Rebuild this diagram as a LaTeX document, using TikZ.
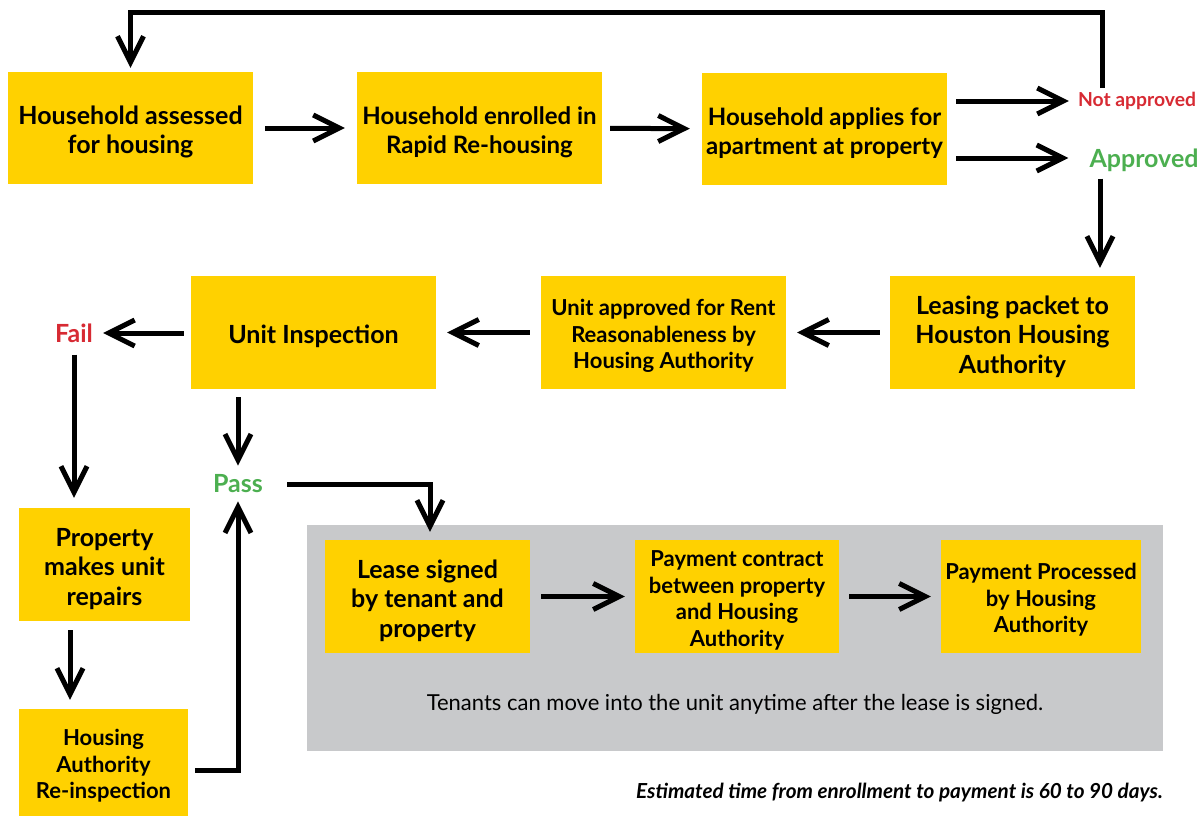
\documentclass[tikz,border=0pt]{standalone}
\usepackage{fontspec}
\setmainfont{Lato}
\usetikzlibrary{arrows.meta}
\definecolor{boxyellow}{HTML}{FFD100}
\definecolor{failred}{HTML}{D72A33}
\definecolor{passgreen}{HTML}{4CAF50}
\definecolor{panelgray}{HTML}{C8C9CB}
\newcommand\sk{\rule{0pt}{1.06em}}
\tikzset{
  stepbox/.style={fill=boxyellow, inner sep=0pt, align=center, font=\bfseries\fontsize{25}{29.5}\selectfont},
  midbox/.style={stepbox, font=\bfseries\fontsize{24}{29}\selectfont},
  smallbox/.style={stepbox, font=\bfseries\fontsize{22}{26.5}\selectfont},
  lbl/.style={inner sep=0pt, font=\bfseries\fontsize{25}{28}\selectfont},
  arr/.style={line width=5pt, -{Straight Barb[length=26pt,width=26pt]}},
}
\begin{document}
\begin{tikzpicture}[x=1pt,y=-1pt]
\useasboundingbox (0,0) rectangle (1204,817);
\fill[panelgray] (307,525) rectangle (1163,751);
% top row
\node[stepbox, minimum width=245, minimum height=112] (b1) at (130.5,128) {\sk Household assessed\\for housing};
\node[midbox, minimum width=245, minimum height=112] (b2) at (479.5,128) {\sk Household enrolled in\\Rapid Re-housing};
\node[midbox, minimum width=245, minimum height=112] (b3) at (824.5,129) {\sk Household applies for\\apartment at property};
\node[lbl, text=failred, font=\bfseries\fontsize{19.3}{22}\selectfont] (na) at (1137,101) {Not approved};
\node[lbl, text=passgreen] (ap) at (1144,160) {Approved};
% second row
\node[stepbox, minimum width=245, minimum height=113] (lp) at (1012.5,332.5) {\sk Leasing packet to\\Houston Housing\\Authority};
\node[smallbox, minimum width=245, minimum height=113] (ua) at (663.5,332.5) {\sk Unit approved for Rent\\Reasonableness by\\Housing Authority};
\node[stepbox, minimum width=245, minimum height=113] (ui) at (313.5,332.5) {\sk Unit Inspection};
\node[lbl, text=failred] (fail) at (74,333) {Fail};
% left column
\node[stepbox, minimum width=171, minimum height=113] (pr) at (104.5,564.5) {\sk Property\\makes unit\\repairs};
\node[smallbox, minimum width=169, minimum height=107] (hr) at (103.5,762.5) {\sk Housing\\Authority\\Re-inspection};
\node[lbl, text=passgreen] (pass) at (238,484) {Pass};
% panel
\node[stepbox, minimum width=205, minimum height=113] (ls) at (427.5,596.5) {\sk Lease signed\\by tenant and\\property};
\node[smallbox, minimum width=204, minimum height=113] (pc) at (737,596.5) {\sk Payment contract\\between property\\and Housing\\Authority};
\node[smallbox, minimum width=200, minimum height=113] (pp) at (1041,596.5) {\sk Payment Processed\\by Housing\\Authority};
\node[inner sep=0pt, font=\fontsize{22}{26}\selectfont] (tn) at (735,704) {Tenants can move into the unit anytime after the lease is signed.};
\node[inner sep=0pt, anchor=east, font=\bfseries\itshape\fontsize{20.7}{24}\selectfont] (ft) at (1163,793) {Estimated time from enrollment to payment is 60 to 90 days.};
% helper coordinates
\coordinate (loopR) at (1102,12);
\coordinate (colA) at (1100,0);
\coordinate (colB) at (70,0);
\coordinate (colC) at (430,0);
% connectors
\draw[arr, shorten <=12pt, shorten >=12pt] (b1) -- (b2);
\draw[arr, shorten <=8pt, shorten >=12pt] (b2) -- (b3);
\draw[arr, shorten <=9pt, shorten >=9pt] (b3.east |- na.west) -- (na.west);
\draw[arr, shorten <=9pt, shorten >=21pt] ([yshift=2pt]b3.east |- ap.west) -- ([yshift=2pt]ap.west);
\draw[arr, shorten >=4pt] ([yshift=4pt]loopR |- na.north) -- (loopR) -| (b1.north);
\draw[arr, shorten <=7pt, shorten >=8pt] (ap.south -| colA) -- (lp.north -| colA);
\draw[arr, shorten <=10pt, shorten >=11pt] (lp) -- (ua);
\draw[arr, shorten <=11pt, shorten >=11pt] (ua) -- (ui);
\draw[arr, shorten <=7pt, shorten >=10pt] (ui.west |- fail.east) -- (fail.east);
\draw[arr, shorten <=12pt, shorten >=10pt] (fail.south) -- (fail.south |- pr.north);
\draw[arr, shorten <=9pt, shorten >=9pt] (pr.south -| colB) -- (hr.north -| colB);
\draw[arr, shorten <=7pt, shorten >=8pt] ([yshift=-7.5pt]hr.east) -| (pass.south);
\draw[arr, shorten <=8pt, shorten >=9pt] (ui.south -| pass.north) -- (pass.north);
\draw[arr, shorten <=24pt, shorten >=8pt] (pass.east) -| (ls.north -| colC);
\draw[arr, shorten <=11pt, shorten >=10pt] (ls) -- (pc);
\draw[arr, shorten <=10pt, shorten >=10pt] (pc) -- (pp);
\end{tikzpicture}
\end{document}
